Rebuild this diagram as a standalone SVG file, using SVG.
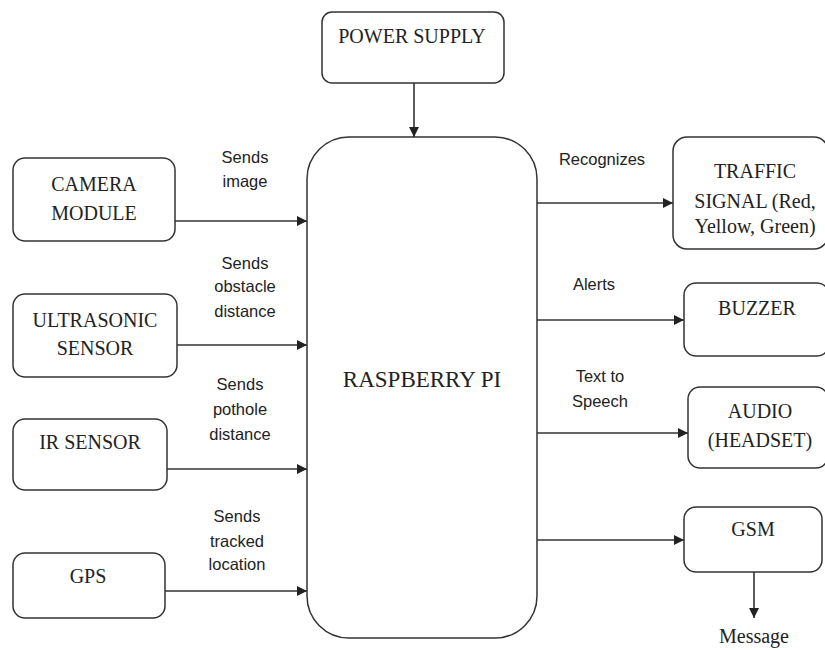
<svg xmlns="http://www.w3.org/2000/svg" width="825" height="650" viewBox="0 0 825 650">
<style>
.box{fill:#fff;stroke:#333;stroke-width:1.5}
.t{font-family:"Liberation Serif","Times New Roman",serif;font-size:20px;fill:#222;text-anchor:middle}
.big{font-size:23px}
.l{font-family:"Liberation Sans",Arial,sans-serif;font-size:16.5px;fill:#222;text-anchor:middle}
.c{stroke:#333;stroke-width:1.6;fill:none;marker-end:url(#ah)}
</style>
<defs>
<marker id="ah" viewBox="0 0 10 10" refX="10" refY="5" markerWidth="10" markerHeight="10" markerUnits="userSpaceOnUse" orient="auto">
<path d="M0,0 L10,5 L0,10 z" fill="#222"/>
</marker>
</defs>
<rect width="825" height="650" fill="#fff"/>
<g id="connectors">
<line class="c" x1="414" y1="83" x2="414" y2="137"/>
<line class="c" x1="175" y1="221" x2="307" y2="221"/>
<line class="c" x1="177" y1="345" x2="307" y2="345"/>
<line class="c" x1="167" y1="469" x2="307" y2="469"/>
<line class="c" x1="165" y1="591" x2="307" y2="591"/>
<line class="c" x1="537" y1="203" x2="673" y2="203"/>
<line class="c" x1="537" y1="320" x2="684" y2="320"/>
<line class="c" x1="537" y1="433" x2="688" y2="433"/>
<line class="c" x1="537" y1="540" x2="684" y2="540"/>
<line class="c" x1="754" y1="572" x2="754" y2="618"/>
<text class="l" x="245" y="163">Sends</text>
<text class="l" x="245" y="187">image</text>
<text class="l" x="245" y="269">Sends</text>
<text class="l" x="245" y="292">obstacle</text>
<text class="l" x="245" y="317">distance</text>
<text class="l" x="240" y="390">Sends</text>
<text class="l" x="240" y="415">pothole</text>
<text class="l" x="240" y="440">distance</text>
<text class="l" x="237" y="522">Sends</text>
<text class="l" x="237" y="547">tracked</text>
<text class="l" x="237" y="570">location</text>
<text class="l" x="602" y="165">Recognizes</text>
<text class="l" x="594" y="290">Alerts</text>
<text class="l" x="600" y="382">Text to</text>
<text class="l" x="600" y="407">Speech</text>
<text class="t" x="754" y="643">Message</text>
</g>
<g id="power-supply">
<rect class="box" x="322" y="12" width="182" height="71" rx="10"/>
<text class="t" x="412" y="43">POWER SUPPLY</text>
</g>
<g id="raspberry-pi">
<rect class="box" x="307" y="137" width="230" height="501" rx="42"/>
<text class="t big" x="422" y="387">RASPBERRY PI</text>
</g>
<g id="camera-module">
<rect class="box" x="13" y="158" width="162" height="83" rx="12"/>
<text class="t" x="94" y="191">CAMERA</text>
<text class="t" x="94" y="220">MODULE</text>
</g>
<g id="ultrasonic-sensor">
<rect class="box" x="13" y="294" width="164" height="83" rx="12"/>
<text class="t" x="95" y="327">ULTRASONIC</text>
<text class="t" x="95" y="355">SENSOR</text>
</g>
<g id="ir-sensor">
<rect class="box" x="13" y="419" width="154" height="71" rx="12"/>
<text class="t" x="90" y="449">IR SENSOR</text>
</g>
<g id="gps">
<rect class="box" x="13" y="553" width="152" height="65" rx="12"/>
<text class="t" x="88" y="583">GPS</text>
</g>
<g id="traffic-signal">
<rect class="box" x="673" y="137" width="155" height="112" rx="14"/>
<text class="t" x="755" y="178">TRAFFIC</text>
<text class="t" x="755" y="208">SIGNAL (Red,</text>
<text class="t" x="755" y="233">Yellow, Green)</text>
</g>
<g id="buzzer">
<rect class="box" x="684" y="283" width="145" height="73" rx="12"/>
<text class="t" x="757" y="315">BUZZER</text>
</g>
<g id="audio">
<rect class="box" x="688" y="387" width="140" height="81" rx="12"/>
<text class="t" x="760" y="418">AUDIO</text>
<text class="t" x="760" y="447">(HEADSET)</text>
</g>
<g id="gsm">
<rect class="box" x="684" y="507" width="138" height="65" rx="12"/>
<text class="t" x="753" y="536">GSM</text>
</g>
</svg>
